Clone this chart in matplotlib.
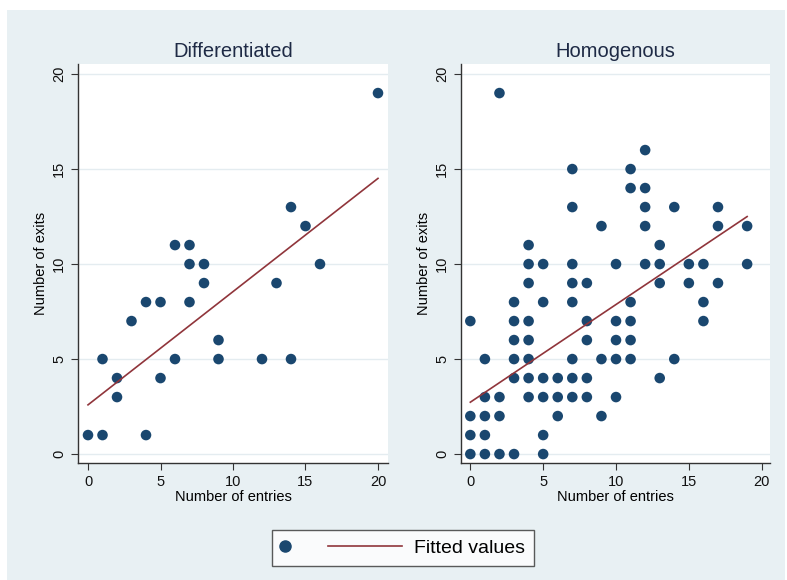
import matplotlib.pyplot as plt
from matplotlib.patches import Rectangle
from matplotlib.lines import Line2D
from matplotlib.legend_handler import HandlerLine2D

plt.rcParams["font.family"] = ["Liberation Sans", "DejaVu Sans"]

# Differentiated group: entries vs exits
diff_x = [0, 1, 1, 2, 2, 3, 4, 4, 5, 5, 6, 6, 7, 7, 7, 8, 8, 9, 9, 12, 13, 14, 14, 15, 16, 20]
diff_y = [1, 1, 5, 4, 3, 7, 8, 1, 8, 4, 11, 5, 11, 10, 8, 10, 9, 6, 5, 5, 9, 13, 5, 12, 10, 19]
diff_fit_x = [0, 20]
diff_fit_y = [2.59, 14.51]

# Homogenous group, listed column by column
homo_cols = {
    0: [0, 1, 2, 7],
    1: [0, 1, 2, 3, 5],
    2: [0, 2, 3, 19],
    3: [0, 4, 5, 6, 7, 8],
    4: [3, 4, 5, 6, 7, 9, 10, 11],
    5: [0, 1, 3, 4, 8, 10],
    6: [2, 3, 4],
    7: [3, 4, 5, 8, 9, 10, 13, 15],
    8: [3, 4, 6, 7, 9],
    9: [2, 5, 12],
    10: [3, 5, 6, 7, 10],
    11: [5, 6, 7, 8, 14, 15],
    12: [10, 12, 13, 14, 16],
    13: [4, 9, 10, 11],
    14: [5, 13],
    15: [9, 10],
    16: [7, 8, 10],
    17: [9, 12, 13],
    19: [10, 12],
}
homo_x = [x for x, ys in homo_cols.items() for _ in ys]
homo_y = [y for ys in homo_cols.values() for y in ys]
homo_fit_x = [0, 19]
homo_fit_y = [2.73, 12.5]

ticks = [0, 5, 10, 15, 20]

bg = "#e8f0f3"
navy = "#1a476f"
maroon = "#90353b"
W, H = 787, 580

fig = plt.figure(figsize=(W / 100, H / 100), dpi=100)
fig.patches.append(Rectangle((7 / W, 0), 778 / W, 570 / H, transform=fig.transFigure,
                             facecolor=bg, edgecolor="none", zorder=-1))


def panel(left, right, xlim, title, xs, ys, fx, fy):
    ax = fig.add_axes([left / W, 1 - 463 / H, (right - left) / W, 399 / H])
    ax.set_facecolor("white")
    ax.scatter(xs, ys, s=58, color=navy, edgecolors="none", zorder=3)
    ax.plot(fx, fy, color=maroon, lw=1.2, zorder=4)
    ax.set_xlim(*xlim)
    ax.set_ylim(-0.47, 20.53)
    ax.set_xticks(ticks)
    ax.set_yticks(ticks)
    ax.set_yticklabels([str(t) for t in ticks], rotation=90, va="center")
    ax.tick_params(labelsize=10.5, length=5, color="#333333", labelcolor="#111111")
    ax.grid(axis="y", color="#e4ecf0", lw=1)
    ax.set_axisbelow(True)
    for s in ["top", "right"]:
        ax.spines[s].set_visible(False)
    for s in ["left", "bottom"]:
        ax.spines[s].set_color("#333333")
        ax.spines[s].set_linewidth(1.0)
    ax.set_title(title, fontsize=14.5, color="#1e2a45", pad=5)
    ax.set_xlabel("Number of entries", fontsize=10.5, labelpad=1)
    ax.set_ylabel("Number of exits", fontsize=10.5, labelpad=3)
    return ax


panel(78, 388, (-0.69, 20.69), "Differentiated", diff_x, diff_y, diff_fit_x, diff_fit_y)
panel(461, 770, (-0.64, 20.57), "Homogenous", homo_x, homo_y, homo_fit_x, homo_fit_y)


class LeftMarker(HandlerLine2D):
    # single-point handler draws the dot mid-way along xdata, so keep xdata short
    def get_xdata(self, legend, xdescent, ydescent, width, height, fontsize):
        x0 = -xdescent
        return [x0, x0 + 5], [x0 + 2.5]


dot = Line2D([], [], marker="o", ls="none", color=navy, markersize=8)
fit = Line2D([], [], color=maroon, lw=1.2)
leg = fig.legend([dot, fit], ["", "Fitted values"], loc="center",
                 bbox_to_anchor=(403 / W, 1 - 548 / H), ncol=2, fontsize=14,
                 frameon=True, fancybox=False, edgecolor="#333333",
                 handlelength=3.8, columnspacing=-1.98, handletextpad=0.6,
                 borderpad=0.45, handler_map={dot: LeftMarker()})
leg.get_frame().set_linewidth(1.0)

fig.savefig("out.png", dpi=100, facecolor="white")
